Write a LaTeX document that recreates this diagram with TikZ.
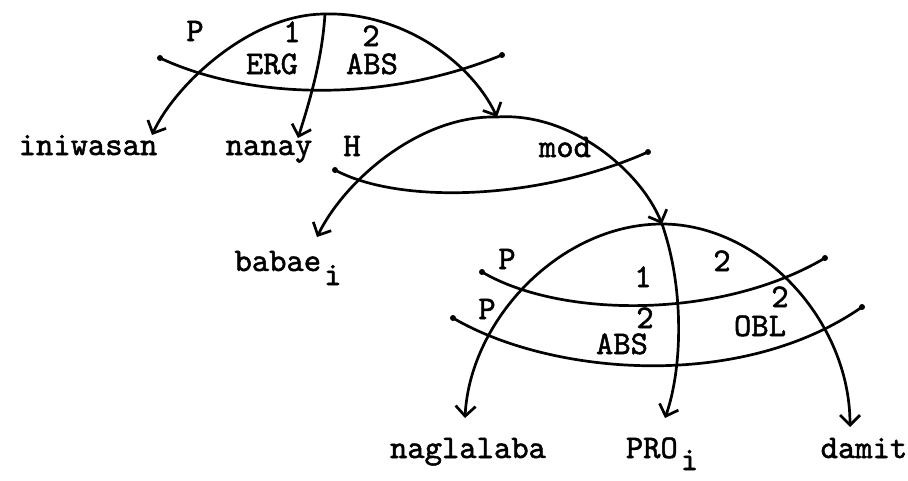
\documentclass[tikz,border=0pt]{standalone}
\usepackage{fontspec}
\usetikzlibrary{arrows.meta}
\newfontfamily\tw{lmmono10-regular}[Extension=.otf,FakeBold=1.5]
\begin{document}
\begin{tikzpicture}[x=1pt,y=-1pt,
  arc/.style={line width=2.7pt,-{Straight Barb[length=10pt,width=20pt,line width=2.7pt]}},
  stratum/.style={line width=2.7pt},
  lab/.style={inner sep=0pt,anchor=base,font=\tw\fontsize{33}{38}\selectfont},
  enddot/.style={circle,fill=black,inner sep=0pt,minimum size=6pt}]
\useasboundingbox (0,0) rectangle (908,480);
% ---- cluster 1
\coordinate (A1) at (325,14);
\coordinate (t1a) at (152,135);
\coordinate (t1b) at (298,138);
\coordinate (A2) at (497,117);
\node[enddot] (s1l) at (160,58) {};
\node[enddot] (s1r) at (502,55) {};
\draw[stratum] (s1l.center) .. controls (245,98) and (380,105) .. (s1r.center);
\draw[arc] (A1) .. controls (250,14) and (175,85) .. (t1a);
\draw[arc] (A1) .. controls (322,60) and (310,100) .. (t1b);
\draw[arc] (A1) .. controls (400,12) and (470,60) .. (A2);
\node[lab] (p1) at (195,41) {P};
\node[lab] (one1) at (292,42) {1};
\node[lab] (erg) at (272,74) {ERG};
\node[lab] (two1) at (371,46) {2};
\node[lab] (abs1) at (372,74) {ABS};
\node[lab] (iniwasan) at (88,155) {iniwasan};
\node[lab] (nanay) at (269,155) {nanay};
% ---- cluster 2
\coordinate (t2a) at (317,237);
\coordinate (A3) at (662,224);
\node[enddot] (s2l) at (335,170) {};
\node[enddot] (s2r) at (648,152) {};
\draw[stratum] (s2l.center) .. controls (400,205) and (540,200) .. (s2r.center);
\draw[arc] (A2) .. controls (420,115) and (345,180) .. (t2a);
\draw[arc] (A2) .. controls (570,112) and (640,170) .. (A3);
\node[lab] (h) at (352,156) {H};
\node[lab] (mod) at (565,157) {mod};
\node[lab] (babae) at (288,271) {babae\hspace{3pt}\raisebox{-14pt}{i}};
% ---- cluster 3
\coordinate (t3a) at (465,418);
\coordinate (t3b) at (665,418);
\coordinate (t3c) at (850,427);
\node[enddot] (s3l) at (482,272) {};
\node[enddot] (s3r) at (825,258) {};
\node[enddot] (s4l) at (453,318) {};
\node[enddot] (s4r) at (862,307) {};
\draw[stratum] (s3l.center) .. controls (560,318) and (720,320) .. (s3r.center);
\draw[stratum] (s4l.center) .. controls (550,375) and (740,392) .. (s4r.center);
\draw[arc] (A3) .. controls (560,224) and (470,320) .. (t3a);
\draw[arc] (A3) .. controls (685,290) and (682,370) .. (t3b);
\draw[arc] (A3) .. controls (760,224) and (850,320) .. (t3c);
\node[lab] (p3a) at (507,269) {P};
\node[lab] (p3b) at (487,319) {P};
\node[lab] (one3) at (643,287) {1};
\node[lab] (two3a) at (722,271) {2};
\node[lab] (two3b) at (645,328) {2};
\node[lab] (abs3) at (622,354) {ABS};
\node[lab] (two3c) at (780,307) {2};
\node[lab] (obl) at (760,336) {OBL};
\node[lab] (nagl) at (468,458) {naglalaba};
\node[lab] (pro) at (662,458) {PRO\hspace{3pt}\raisebox{-12pt}{i}};
\node[lab] (damit) at (864,458) {damit};
\end{tikzpicture}
\end{document}
